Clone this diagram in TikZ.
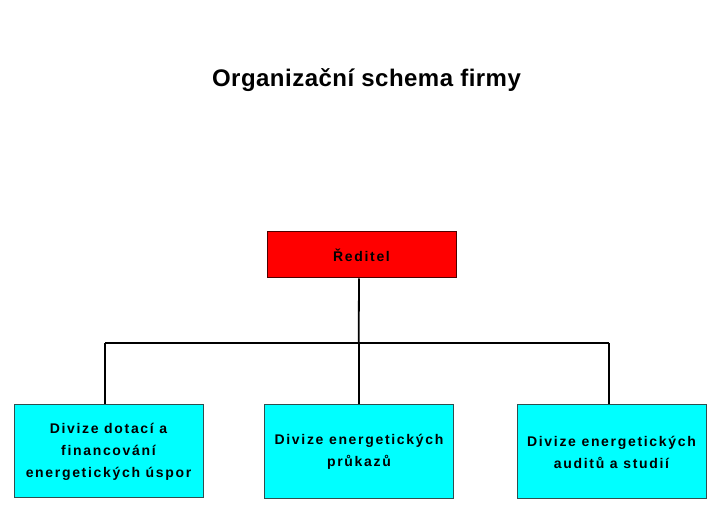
\documentclass[tikz,border=0pt]{standalone}
\usepackage{fontspec}
\setmainfont{Liberation Sans}
\newfontfamily\boxfont{Liberation Sans}[LetterSpace=12]
\newfontfamily\titlefont{Liberation Sans}[LetterSpace=2]
\definecolor{boxborder}{HTML}{2F4F4F}
\definecolor{boxcyan}{RGB}{0,255,255}
\definecolor{boxred}{RGB}{255,0,0}
\begin{document}
\begin{tikzpicture}[x=1pt,y=-1pt,
  orgbox/.style={draw=boxborder, line width=1pt, minimum width=189pt, inner sep=0pt,
    align=center, font={\boxfont\bfseries\fontsize{14}{22}\selectfont}, text=black},
  conn/.style={draw=black, line width=1.8pt}]
\useasboundingbox[fill=white] (0,0) rectangle (713,526);
\node[font={\titlefont\bfseries\fontsize{24}{28}\selectfont}] (title) at (366.5,80) {Organizační schema firmy};
\node[orgbox, fill=boxred, draw=black!70!red, minimum height=46pt] (red) at (361.5,255) {Ředitel};
\node[orgbox, fill=boxcyan, minimum height=93pt] (d1) at (108.5,451.5) {Divize dotací a\\financování\\energetických úspor};
\node[orgbox, fill=boxcyan, minimum height=94pt] (d2) at (359,452) {Divize energetických\\průkazů};
\node[orgbox, fill=boxcyan, minimum height=94pt] (d3) at (611.5,452) {Divize energetických\\auditů a studií};
\coordinate (busL) at (105,343);
\coordinate (busR) at (609,343);
\coordinate (busM) at (358.7,343);
\draw[conn] (busL) -- (busR);
\draw[conn] ([xshift=-2.5pt]red.south) -- (busM);
\draw[conn] (busM) -- (busM |- d2.north);
\draw[conn] (busL) -- (busL |- d1.north);
\draw[conn] (busR) -- (busR |- d3.north);
\end{tikzpicture}
\end{document}
